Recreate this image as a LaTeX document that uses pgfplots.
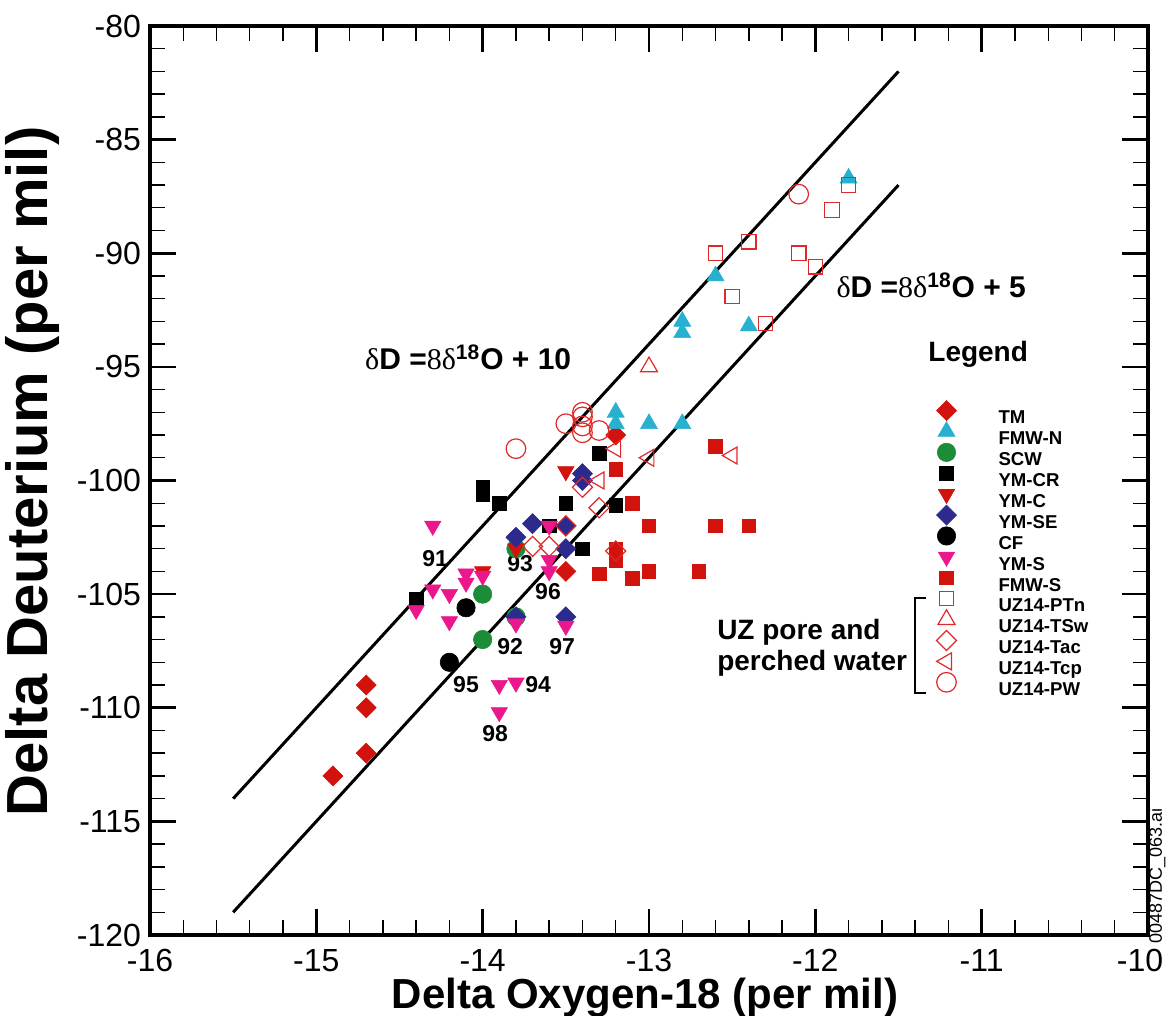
\documentclass[border=0pt]{standalone}
\usepackage{fontspec}
\setmainfont{Liberation Sans}
\newfontfamily\seriffont{Liberation Serif}
\usepackage{pgfplots}
\pgfplotsset{compat=1.18}
\definecolor{cred}{RGB}{210,18,12}
\definecolor{ored}{RGB}{224,40,40}
\definecolor{ccyan}{RGB}{40,176,208}
\definecolor{cgreen}{RGB}{28,140,56}
\definecolor{cnavy}{RGB}{44,42,140}
\definecolor{cpink}{RGB}{234,24,140}
\begin{document}
\begin{tikzpicture}
\begin{axis}[
  at={(0,0)}, anchor=south west,
  scale only axis, width=499pt, height=454.5pt,
  xmin=-16, xmax=-10, ymin=-120, ymax=-80,
  xtick={-16,-15,-14,-13,-12,-11,-10},
  xticklabels={-16,-15,-14,-13,-12,-11,{\hspace*{-8pt}-10}},
  ytick={-120,-115,-110,-105,-100,-95,-90,-85,-80},
  minor x tick num=4, minor y tick num=4,
  tick align=inside,
  major tick length=13pt, minor tick length=7.5pt,
  every major tick/.append style={line width=1.3pt, black},
  every minor tick/.append style={line width=0.7pt, black},
  axis line style={line width=2pt},
  /pgf/number format/assume math mode=true,
  ticklabel style={font=\fontsize{16}{19}\selectfont},
  xticklabel style={yshift=-3.5pt},
  yticklabel style={xshift=-1pt},
  xlabel={Delta Oxygen-18 (per mil)},
  ylabel={Delta Deuterium (per mil)},
  xlabel style={font=\bfseries\fontsize{21}{25}\selectfont, at={(axis description cs:0.496,-0.069)}, anchor=center},
  ylabel style={font=\bfseries\fontsize{29}{33}\selectfont, at={(axis description cs:-0.118,0.51)}, anchor=center},
  clip=false,
  legend cell align=left,
  legend style={draw=none, fill=none, at={(axis cs:-11.31,-96.43)}, anchor=north west,
    inner sep=0pt, font=\bfseries\fontsize{9.3}{11}\selectfont,
    nodes={inner sep=0pt, text height=8.7pt, text depth=2pt},
    row sep=-3.6pt, column sep=0pt},
  legend image code/.code={\path[use as bounding box, draw=none] (0pt,-2pt) rectangle (34pt,8.7pt); \draw plot coordinates {(8pt,3.3pt)};},
]
% reference lines
\addplot[black, line width=1.5pt, no marks, forget plot] coordinates {(-15.5,-114) (-11.5,-82)};
\addplot[black, line width=1.5pt, no marks, forget plot] coordinates {(-15.5,-119) (-11.5,-87)};
% TM
\addplot[only marks, mark=square*, mark size=3.54pt, mark options={rotate=45, fill=cred, draw=cred, line width=0.3pt}]
 coordinates {(-14.9,-113) (-14.7,-109) (-14.7,-110) (-14.7,-112) (-13.5,-104) (-13.2,-98)};
% FMW-N
\addplot[only marks, mark=triangle*, mark size=4.9pt, mark options={fill=ccyan, draw=ccyan, line width=0.3pt}]
 coordinates {(-11.8,-86.7) (-12.6,-91) (-12.8,-93) (-12.8,-93.5) (-12.4,-93.2) (-13.2,-97) (-13.2,-97.5) (-13.0,-97.5) (-12.8,-97.5)};
% SCW
\addplot[only marks, mark=*, mark size=4.6pt, mark options={fill=cgreen, draw=cgreen, line width=0.3pt}]
 coordinates {(-13.8,-103) (-14.0,-105) (-14.0,-107) (-13.8,-106)};
% YM-CR
\addplot[only marks, mark=square*, mark size=3.4pt, mark options={fill=black, draw=black, line width=0.3pt}]
 coordinates {(-14.4,-105.2) (-14.0,-100.3) (-14.0,-100.6) (-13.9,-101) (-13.6,-102) (-13.5,-101) (-13.3,-98.8) (-13.2,-101.1) (-13.4,-103)};
% YM-C
\addplot[only marks, mark=triangle*, mark size=4.7pt, mark options={rotate=180, fill=cred, draw=cred, line width=0.3pt}]
 coordinates {(-13.5,-99.6) (-13.8,-103) (-14.0,-104)};
% YM-SE
\addplot[only marks, mark=square*, mark size=3.54pt, mark options={rotate=45, fill=cnavy, draw=cnavy, line width=0.3pt}]
 coordinates {(-13.4,-99.7) (-13.4,-100) (-13.8,-102.5) (-13.7,-101.9) (-13.5,-102) (-13.5,-103) (-13.5,-106) (-13.8,-106)};
% CF
\addplot[only marks, mark=*, mark size=4.6pt, mark options={fill=black, draw=black, line width=0.3pt}]
 coordinates {(-14.1,-105.6) (-14.2,-108)};
% YM-S
\addplot[only marks, mark=triangle*, mark size=4.7pt, mark options={rotate=180, fill=cpink, draw=cpink, line width=0.3pt}]
 coordinates {(-14.3,-102) (-14.4,-105.7) (-14.3,-104.8) (-14.2,-105) (-14.2,-106.2) (-14.1,-104.1) (-14.1,-104.5) (-14.0,-104.2) (-13.8,-106.3) (-13.5,-106.4) (-13.9,-109) (-13.8,-108.9) (-13.9,-110.2) (-13.6,-102) (-13.6,-103.5) (-13.6,-104)};
% FMW-S
\addplot[only marks, mark=square*, mark size=3.4pt, mark options={fill=cred, draw=cred, line width=0.3pt}]
 coordinates {(-12.6,-98.5) (-13.2,-99.5) (-13.1,-101) (-13.0,-102) (-12.6,-102) (-12.4,-102) (-13.2,-103) (-13.2,-103.5) (-13.3,-104.1) (-13.1,-104.3) (-13.0,-104) (-12.7,-104)};
% UZ14-PTn
\addplot[only marks, mark=square, mark size=3.6pt, mark options={draw=ored, line width=0.6pt}]
 coordinates {(-11.8,-87) (-11.9,-88.1) (-12.4,-89.5) (-12.6,-90) (-12.1,-90) (-12.0,-90.6) (-12.5,-91.9) (-12.3,-93.1)};
% UZ14-TSw
\addplot[only marks, mark=triangle, mark size=4.9pt, mark options={draw=ored, line width=0.6pt}]
 coordinates {(-13.0,-95)};
% UZ14-Tac
\addplot[only marks, mark=square, mark size=3.54pt, mark options={rotate=45, draw=ored, line width=0.6pt}]
 coordinates {(-13.5,-102) (-13.7,-102.9) (-13.6,-102.9) (-13.4,-100.3) (-13.3,-101.2) (-13.2,-103.1)};
% UZ14-Tcp
\addplot[only marks, mark=triangle, mark size=4.9pt, mark options={rotate=90, draw=ored, line width=0.6pt}]
 coordinates {(-13.2,-98.6) (-13.0,-99) (-13.3,-100) (-12.5,-98.9)};
% UZ14-PW
\addplot[only marks, mark=o, mark size=4.9pt, mark options={draw=ored, line width=0.6pt}]
 coordinates {(-12.1,-87.4) (-13.8,-98.6) (-13.5,-97.5) (-13.4,-97.0) (-13.4,-97.2) (-13.4,-97.6) (-13.4,-97.9) (-13.3,-97.8)};
\legend{TM,FMW-N,SCW,YM-CR,YM-C,YM-SE,CF,YM-S,FMW-S,UZ14-PTn,UZ14-TSw,UZ14-Tac,UZ14-Tcp,UZ14-PW}
% annotations
\node[font=\bfseries\fontsize{14}{16}\selectfont] at (axis cs:-11.021,-94.44) {Legend};
\draw[black, line width=1pt] (axis cs:-11.334,-105.18) -- (axis cs:-11.40,-105.18) -- (axis cs:-11.40,-109.36) -- (axis cs:-11.334,-109.36);
\node[anchor=west, align=left, font=\bfseries\fontsize{14}{15.5}\selectfont] at (axis cs:-12.632,-107.35) {UZ pore and\\perched water};
\node[anchor=west, font=\bfseries\fontsize{15}{18}\selectfont] at (axis cs:-14.749,-94.57) {{\seriffont\mdseries δ}D ={\seriffont\mdseries 8δ}\textsuperscript{18}O + 10};
\node[anchor=west, font=\bfseries\fontsize{15}{18}\selectfont] at (axis cs:-11.915,-91.40) {{\seriffont\mdseries δ}D ={\seriffont\mdseries 8δ}\textsuperscript{18}O + 5};
\begin{scope}[every node/.style={font=\bfseries\fontsize{11.5}{13}\selectfont}]
\node at (axis cs:-14.286,-103.42) {91};
\node at (axis cs:-13.775,-103.64) {93};
\node at (axis cs:-13.607,-104.91) {96};
\node at (axis cs:-13.835,-107.33) {92};
\node at (axis cs:-13.522,-107.29) {97};
\node at (axis cs:-14.100,-108.96) {95};
\node at (axis cs:-13.667,-108.96) {94};
\node at (axis cs:-13.925,-111.12) {98};
\end{scope}
\node[rotate=90, font=\fontsize{9}{10}\selectfont] at (axis cs:-9.945,-117.4) {00487DC\_063.ai};
\end{axis}
\pgfresetboundingbox
\path[use as bounding box] (-75pt,-40.5pt) rectangle (509.5pt,467.5pt);
\end{tikzpicture}
\end{document}
